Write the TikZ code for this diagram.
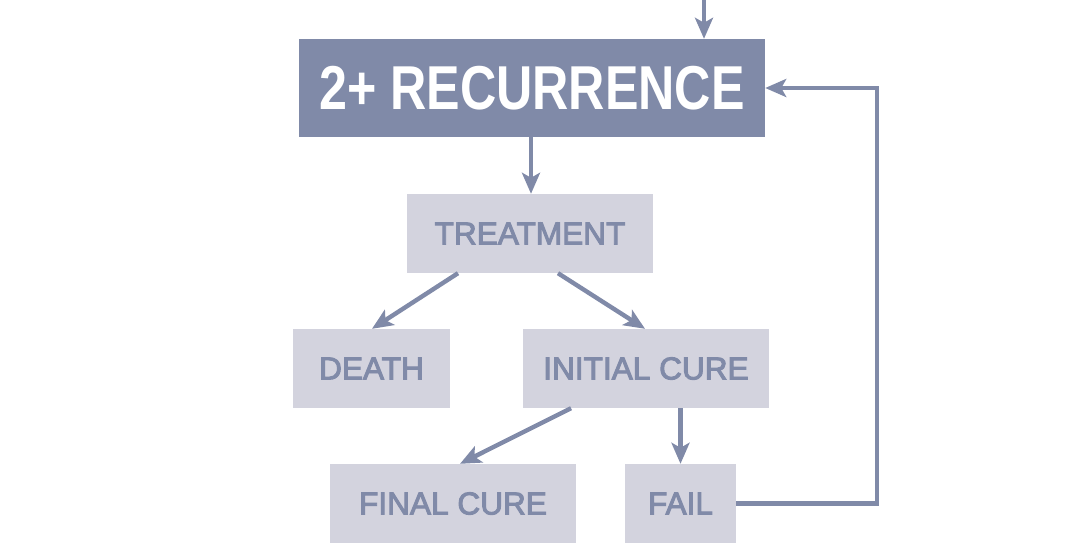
\documentclass[tikz,border=0pt]{standalone}
\usepackage{fontspec}
\setmainfont{Liberation Sans}
\newfontfamily\stagefont[FakeBold=3]{Liberation Sans}
\newfontfamily\condfont[FakeStretch=0.81]{Liberation Sans Bold}
\definecolor{recDark}{RGB}{128,138,168}
\definecolor{recLight}{RGB}{211,211,222}
\usepackage{tikz}
\usetikzlibrary{arrows.meta,positioning,calc}

\begin{document}
\begin{tikzpicture}[
    x=1pt, y=-1pt,
    stage/.style={fill=recLight, text=recDark, inner sep=0pt,
      minimum width=246pt, minimum height=79pt,
      font=\stagefont\fontsize{31.6}{36}\selectfont},
    flow/.style={recDark, line width=4.4pt,
      -{Stealth[length=21pt, width=18pt, inset=5pt]}}
  ]
  \useasboundingbox (0,0) rectangle (1092,552);
  % main box
  \node[fill=recDark, text=white, inner sep=0pt, minimum width=466pt,
    minimum height=98pt, font=\condfont\fontsize{62}{66}\selectfont]
    (recur) at (532,88) {\raisebox{-2pt}{2+ RECURRENCE}};
  \node[stage] (treat) at (530,233.5) {TREATMENT};
  \node[stage, minimum width=157pt] (death) at (371.5,368.5) {DEATH};
  \node[stage] (initial) at (646,368.5) {INITIAL CURE};
  \node[stage] (final) at (453,503.5) {FINAL CURE};
  \node[stage, minimum width=111pt] (fail) at (680.5,503.5) {FAIL};
  \coordinate (entry) at (704,0);
  % connectors
  \draw[flow] (entry) -- (entry |- recur.north);
  \draw[flow] (recur.south -| 531,0) -- (treat.north -| 531,0);
  \draw[flow] (treat.south -| 458,0) -- (death.north -| 372,0);
  \draw[flow] (treat.south -| 558,0) -- (initial.north -| 645,0);
  \draw[flow] (initial.south -| 571,0) -- (final.north -| 460,0);
  \draw[flow] (initial.south -| fail) -- (fail.north);
  \draw[flow] (fail.east) -- (fail.east -| 877,0) |- (recur.east);
\end{tikzpicture}
\end{document}
